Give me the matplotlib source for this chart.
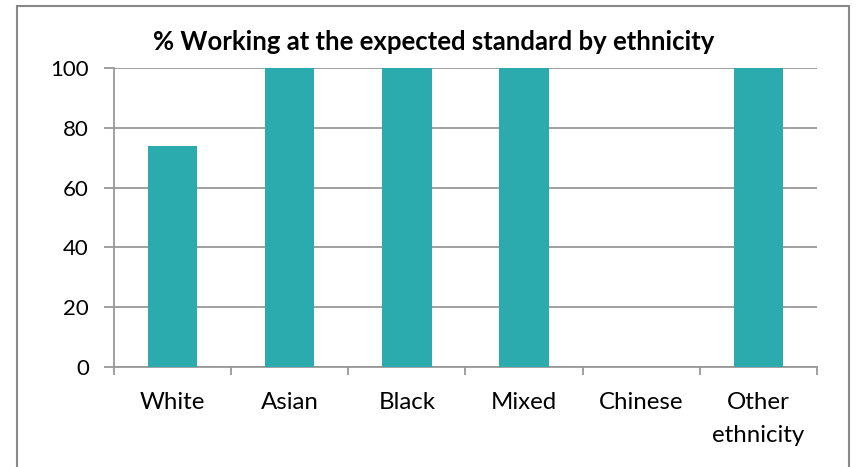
import numpy as np
import matplotlib
matplotlib.use("Agg")
import matplotlib.pyplot as plt
from matplotlib.patches import Rectangle

# data
categories = ["White", "Asian", "Black", "Mixed", "Chinese", "Other\nethnicity"]
values = [74, 100, 100, 100, 0, 100]
y_ticks = [0, 20, 40, 60, 80, 100]

plt.rcParams['font.family'] = ['Lato', 'DejaVu Sans']

bar_color = '#2CABAE'
grid_color = '#999999'

fig = plt.figure(figsize=(8.58, 4.67), dpi=100)
ax = fig.add_axes([114 / 858, 1 - 367 / 467, 703 / 858, 299 / 467])

x = np.arange(len(categories))
ax.bar(x, values, width=0.42, color=bar_color, zorder=3)

ax.set_xlim(-0.5, len(categories) - 0.5)
ax.set_ylim(0, 100)
ax.set_yticks(y_ticks)
ax.yaxis.grid(True, color=grid_color, linewidth=1.3, zorder=0)

ax.set_xticks(x)
ax.set_xticklabels(categories, fontsize=17.3, linespacing=1.7)
ax.set_xticks(np.arange(len(categories) + 1) - 0.5, minor=True)
ax.tick_params(axis='x', which='major', length=0, pad=18)
ax.tick_params(axis='x', which='minor', length=6, width=1.3, color=grid_color)
ax.tick_params(axis='y', length=7, width=1.3, color=grid_color, labelsize=16, pad=11)

for s in ['top', 'right']:
    ax.spines[s].set_visible(False)
for s in ['left', 'bottom']:
    ax.spines[s].set_color(grid_color)
    ax.spines[s].set_linewidth(1.3)

fig.text(434 / 858, 1 - 42 / 467, "% Working at the expected standard by ethnicity",
         ha='center', va='center', fontsize=18.5, fontweight='bold')

# chart border
fig.patches.append(Rectangle((17 / 858, -0.05), 832 / 858, 1.05 - 6 / 467,
                             transform=fig.transFigure, fill=False,
                             edgecolor='#888888', linewidth=1.5))

fig.savefig("out.png", dpi=100)
